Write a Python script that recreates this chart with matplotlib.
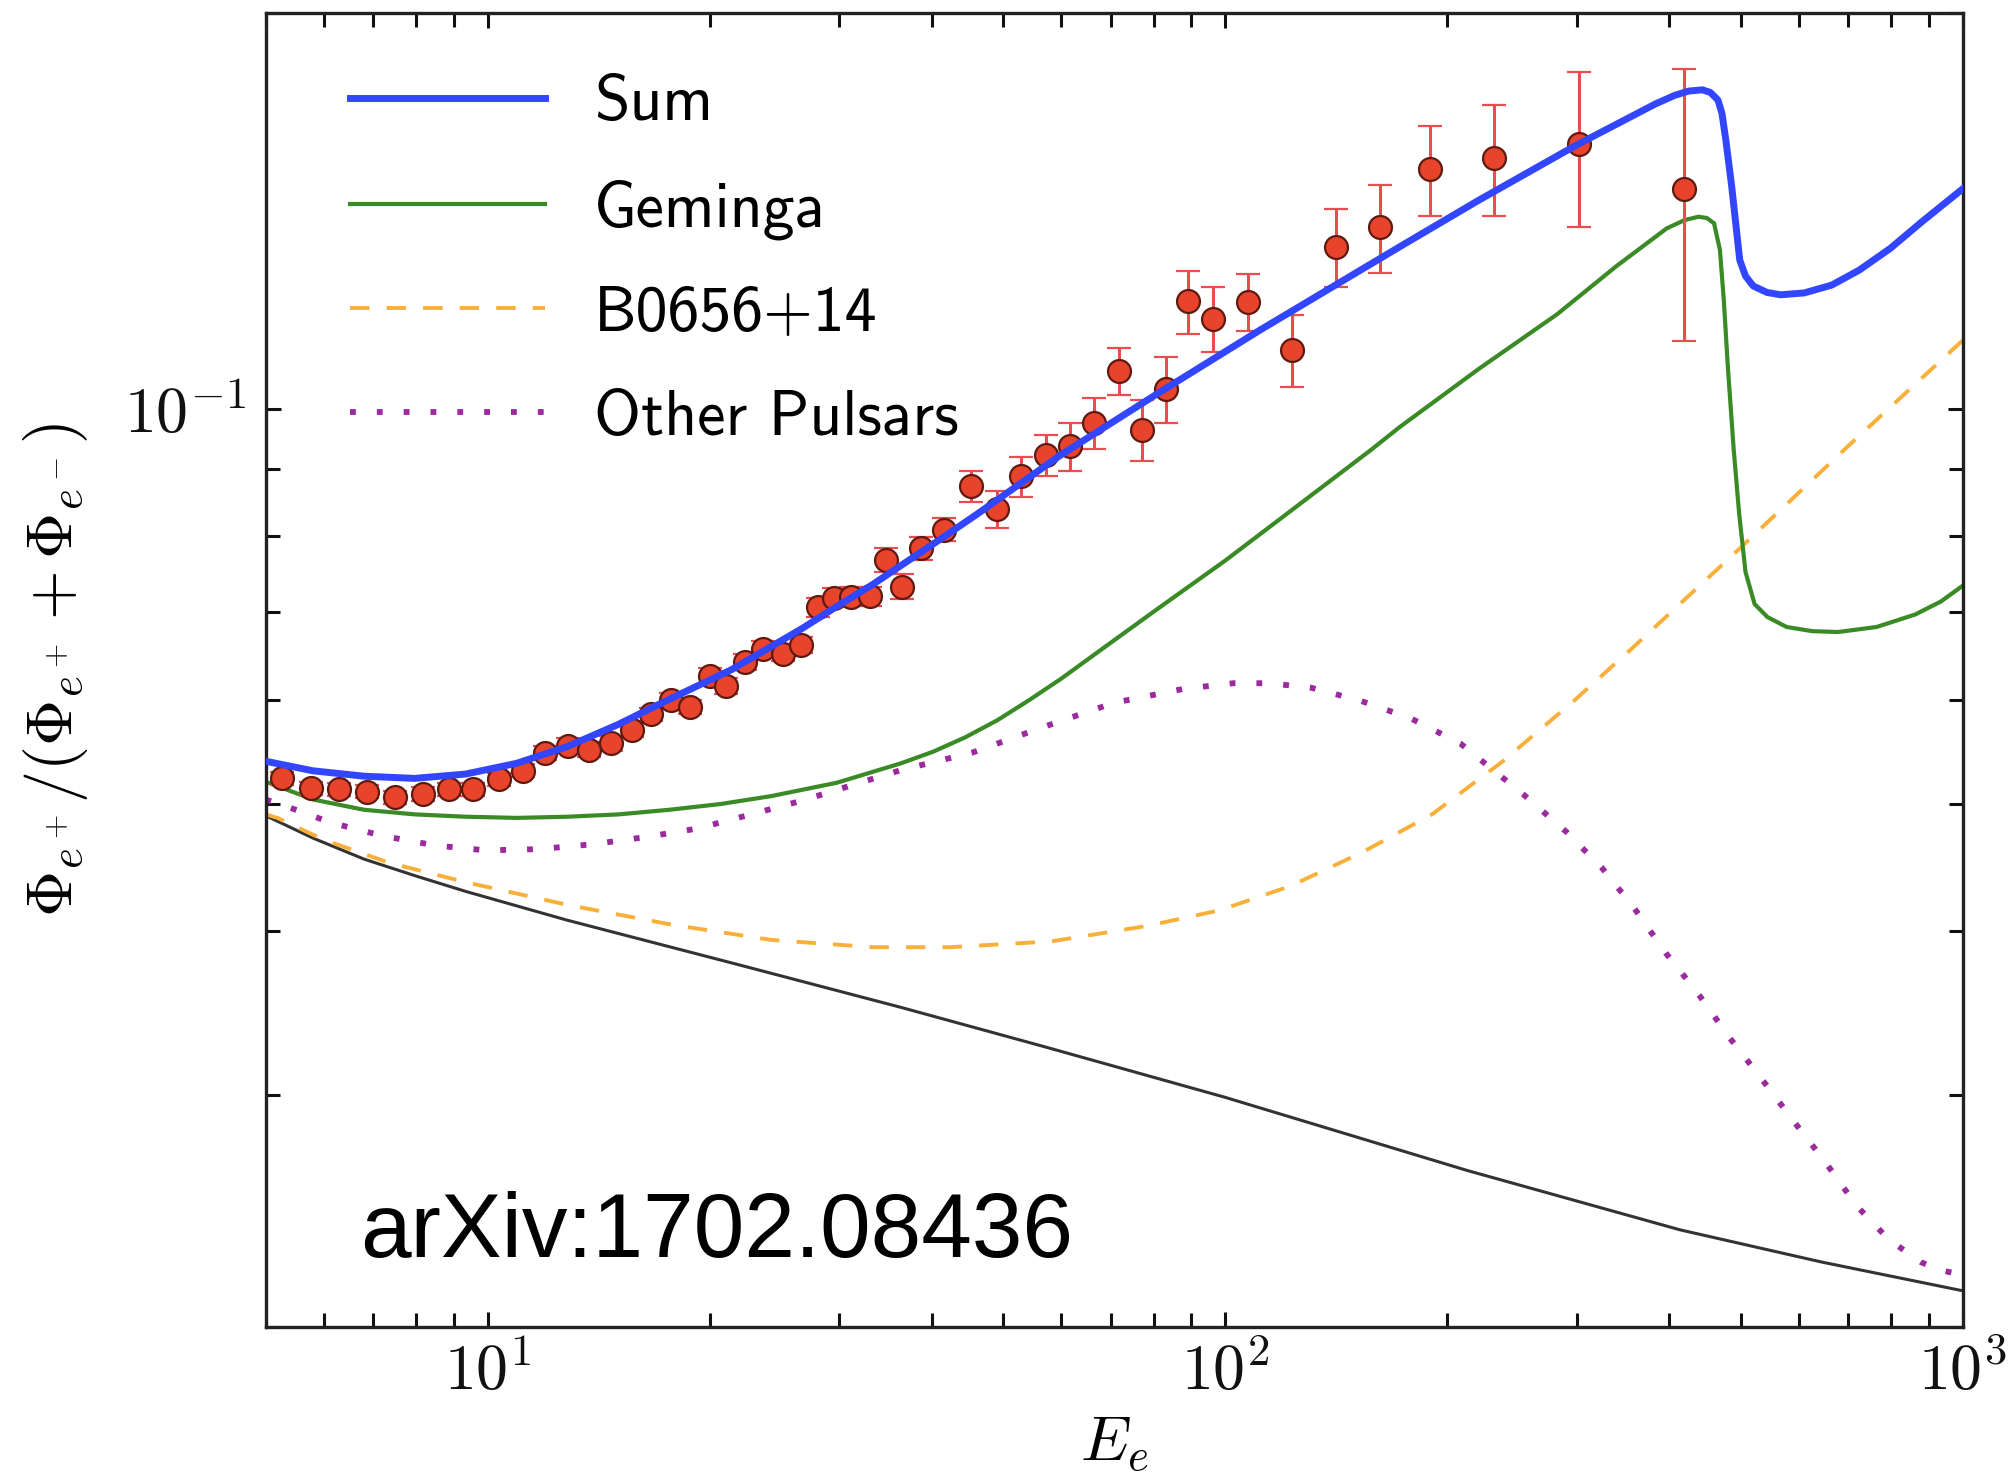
import math
import matplotlib
matplotlib.use("Agg")
import matplotlib.pyplot as plt
from matplotlib.ticker import NullFormatter, LogLocator, FuncFormatter

# ---- measured positron fraction ----
data_E = [5.26, 5.76, 6.28, 6.86, 7.48, 8.17, 8.87, 9.57, 10.36, 11.16,
          11.98, 12.85, 13.73, 14.70, 15.70, 16.67, 17.74, 18.83, 20.01, 21.08,
          22.35, 23.65, 25.12, 26.61, 28.03, 29.50, 31.09, 33.01, 34.68, 36.51,
          38.69, 41.55, 45.23, 49.0, 52.84, 57.13, 61.61, 66.41, 71.78, 77.2,
          83.05, 89.2, 96.3, 107.3, 123.4, 141.5, 162.1, 189.5, 231.6, 301.6, 419.0]
data_frac = [0.0523, 0.0514, 0.0513, 0.0511, 0.0506, 0.0509, 0.0513, 0.0513, 0.0522, 0.0530,
             0.0547, 0.0554, 0.0550, 0.0556, 0.0569, 0.0585, 0.0600, 0.0593, 0.0626, 0.0615,
             0.0641, 0.0656, 0.0651, 0.0661, 0.0706, 0.0718, 0.0719, 0.0720, 0.0767, 0.0732,
             0.0783, 0.0809, 0.0873, 0.0838, 0.0888, 0.0922, 0.0936, 0.0975, 0.1069, 0.0964,
             0.1035, 0.1207, 0.1171, 0.1206, 0.1109, 0.1328, 0.1374, 0.1521, 0.1552, 0.1591, 0.1470]
data_err = [0.0006, 0.0006, 0.0006, 0.0006, 0.0006, 0.0006, 0.0006, 0.0006, 0.0006, 0.0006,
            0.0007, 0.0007, 0.0007, 0.0007, 0.0007, 0.0007, 0.0007, 0.0007, 0.0009, 0.0009,
            0.0009, 0.0009, 0.0009, 0.0009, 0.0012, 0.0012, 0.0012, 0.0012, 0.0016, 0.0016,
            0.0016, 0.0016, 0.0024, 0.0027, 0.0031, 0.0033, 0.0039, 0.0044, 0.0044, 0.0051,
            0.0060, 0.0067, 0.0067, 0.0060, 0.0070, 0.0090, 0.0105, 0.0120, 0.0150, 0.0215, 0.0345]

# ---- model curves ----
sum_E = [5.0, 5.8, 6.8, 7.97, 9.34, 10.95, 12.83, 15.05, 17.23, 21.44,
         26.68, 29.76, 33.19, 37.05, 41.32, 46.08, 49.66, 59.87, 81.72, 111.6,
         172.8, 220.7, 299.9, 383.1, 407.0, 425.0, 443.8, 455.0, 465.9, 471.7,
         477.5, 486.4, 498.7, 507.7, 520.2, 543.1, 566.7, 610.0, 664.8, 724.3,
         798.7, 881.0, 1000.0]
sum_frac = [0.0539, 0.0530, 0.0525, 0.0523, 0.0527, 0.0537, 0.0553, 0.0575, 0.0597, 0.0633,
            0.0680, 0.0707, 0.0734, 0.0765, 0.0797, 0.0831, 0.0856, 0.0922, 0.1030, 0.1148,
            0.1329, 0.1441, 0.1588, 0.1706, 0.1732, 0.1745, 0.1749, 0.1741, 0.1718, 0.1679,
            0.1602, 0.1476, 0.1298, 0.1262, 0.1240, 0.1226, 0.1221, 0.1225, 0.1242, 0.1275,
            0.1325, 0.1388, 0.1470]

geminga_E = [5.0, 5.8, 6.8, 7.97, 9.34, 10.95, 12.83, 15.05, 17.64, 20.69,
             24.25, 29.75, 36.35, 40.18, 44.42, 49.09, 54.27, 59.98, 66.3, 81.0,
             100.0, 125.9, 157.6, 172.8, 220.7, 282.0, 338.8, 397.2, 420.0, 438.4,
             450.0, 460.3, 468.8, 474.5, 480.5, 489.4, 497.9, 507.8, 522.4, 543.7,
             577.3, 625.7, 678.0, 764.5, 862.0, 934.0, 1000.0]
geminga_frac = [0.0520, 0.0504, 0.0495, 0.0491, 0.0489, 0.0488, 0.0489, 0.0491, 0.0495, 0.0500,
                0.0507, 0.0519, 0.0537, 0.0548, 0.0562, 0.0579, 0.0600, 0.0623, 0.0649, 0.0704,
                0.0766, 0.0845, 0.0930, 0.0969, 0.1072, 0.1180, 0.1283, 0.1372, 0.1392, 0.1400,
                0.1397, 0.1384, 0.1321, 0.1210, 0.1077, 0.0931, 0.0831, 0.0751, 0.0710, 0.0694,
                0.0682, 0.0677, 0.0676, 0.0682, 0.0697, 0.0713, 0.0733]

b0656_E = [5.0, 5.19, 5.98, 7.36, 9.34, 12.83, 17.64, 24.25, 33.33, 42.33,
           58.17, 78.78, 98.3, 122.6, 153.0, 190.8, 238.1, 297.0, 354.3, 491.9,
           698.8, 1000.0]
b0656_frac = [0.0491, 0.0488, 0.0470, 0.0451, 0.0436, 0.0419, 0.0405, 0.0394, 0.0389, 0.0389,
              0.0393, 0.0404, 0.0415, 0.0433, 0.0459, 0.0491, 0.0539, 0.0599, 0.0655, 0.0777,
              0.0936, 0.1127]

others_E = [5.0, 5.23, 6.13, 7.19, 8.49, 9.95, 11.76, 13.90, 16.43, 19.26,
            22.76, 26.69, 31.27, 36.49, 45.35, 56.56, 70.6, 88.0, 102.8, 114.8,
            131.0, 153.0, 178.6, 208.5, 254.3, 290.5, 324.4, 358.3, 396.0, 437.3,
            483.0, 533.6, 589.4, 651.1, 719.2, 794.5, 877.6, 927.5, 1000.0]
others_frac = [0.0504, 0.0500, 0.0484, 0.0473, 0.0465, 0.0461, 0.0462, 0.0466, 0.0472, 0.0479,
               0.0491, 0.0503, 0.0517, 0.0531, 0.0547, 0.0572, 0.0597, 0.0612, 0.0618, 0.0618,
               0.0613, 0.0599, 0.0581, 0.0556, 0.0508, 0.0476, 0.0447, 0.0417, 0.0385, 0.0359,
               0.0332, 0.0309, 0.0287, 0.0267, 0.0247, 0.0233, 0.0224, 0.0221, 0.0219]

bkg_E = [5.0, 5.8, 6.8, 7.97, 9.34, 12.8, 21.6, 36.4, 56.6, 100.0,
         213.0, 414.0, 644.0, 1000.0]
bkg_frac = [0.0490, 0.0471, 0.0454, 0.0441, 0.0429, 0.0408, 0.0378, 0.0350, 0.0327, 0.0299,
            0.0263, 0.0237, 0.0224, 0.0213]

series_labels = ["Sum", "Geminga", "B0656+14", "Other Pulsars"]
annotation = "arXiv:1702.08436"

plt.rcParams["mathtext.fontset"] = "cm"

fig = plt.figure(figsize=(20.16, 14.80), dpi=100)
ax = fig.add_axes([0.1317, 0.1036, 0.9735 - 0.1317, 0.991 - 0.1036])

ax.set_xscale("log")
ax.set_yscale("log")

ax.plot(bkg_E, bkg_frac, color="#333333", lw=2.2, zorder=2)
ax.plot(others_E, others_frac, color="#9b2a9f", lw=4.2, dashes=(1.0, 3.6),
        dash_capstyle="butt", zorder=2, label=series_labels[3])
ax.plot(b0656_E, b0656_frac, color="#f8b03a", lw=2.8, dashes=(5.0, 4.4),
        zorder=2, label=series_labels[2])
ax.plot(geminga_E, geminga_frac, color="#3a8a26", lw=3.0, zorder=2,
        label=series_labels[1])
ax.errorbar(data_E, data_frac, yerr=data_err, fmt="o", ms=16.5, mfc="#e8432b",
            mec="#5e1a10", mew=1.6, ecolor="#ea4d50", elinewidth=2.2,
            capsize=8.5, capthick=2.2, zorder=3)
ax.plot(sum_E, sum_frac, color="#3346ff", lw=5.0, zorder=4,
        label=series_labels[0])

ax.set_xlim(5, 1000)
ax.set_ylim(0.02, 0.2)


def decade_label(value, pos):
    return r"$10^{%d}$" % int(round(math.log10(value)))


ax.xaxis.set_major_locator(LogLocator(base=10))
ax.xaxis.set_minor_locator(LogLocator(base=10, subs=range(2, 10)))
ax.yaxis.set_major_locator(LogLocator(base=10))
ax.yaxis.set_minor_locator(LogLocator(base=10, subs=range(2, 10)))
ax.xaxis.set_major_formatter(FuncFormatter(decade_label))
ax.yaxis.set_major_formatter(FuncFormatter(decade_label))
ax.xaxis.set_minor_formatter(NullFormatter())
ax.yaxis.set_minor_formatter(NullFormatter())

ax.tick_params(which="both", direction="in", top=True, right=True,
               width=2.2, colors="#111111", labelsize=46)
ax.tick_params(which="major", length=11)
ax.tick_params(which="minor", length=10)
ax.tick_params(axis="x", pad=10)
ax.tick_params(axis="y", pad=14)
for s in ax.spines.values():
    s.set_linewidth(2.4)
    s.set_color("#222222")

ax.set_xlabel(r"$E_e$", fontsize=46)
ax.xaxis.set_label_coords(0.5, -0.066)
ax.set_ylabel(r"$\Phi_{e^+}/(\Phi_{e^+}+\Phi_{e^-})$", fontsize=46)
ax.yaxis.set_label_coords(-0.1035, 0.5)

handles, labels = ax.get_legend_handles_labels()
order = [labels.index(l) for l in series_labels]
leg = ax.legend([handles[i] for i in order], [labels[i] for i in order],
                loc="upper left", bbox_to_anchor=(0.0496, 0.953),
                frameon=False, borderpad=0, borderaxespad=0,
                handlelength=3.05, handletextpad=0.77, labelspacing=0.72,
                prop={"family": "cmss10", "size": 46})

ax.text(0.0556, 0.053, annotation, transform=ax.transAxes,
        fontsize=65.5, family="Liberation Sans", va="baseline", ha="left",
        color="black")

fig.savefig("out.png", dpi=100)
